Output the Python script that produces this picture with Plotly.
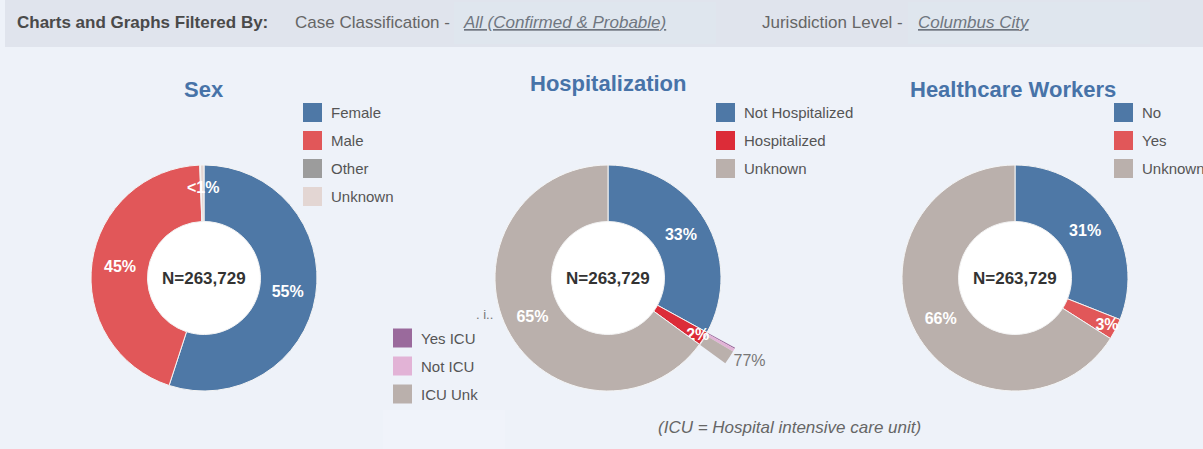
import math
import plotly.graph_objects as go

# ---------------- data ----------------
N_TOTAL = 263729

sex_labels = ["Female", "Male", "Other", "Unknown"]
sex_values = [55.0, 44.4, 0.1, 0.5]
sex_text = ["55%", "45%", "", "<1%"]
sex_colors = ["#4e78a6", "#e15759", "#9c9c9c", "#e3d6d3"]

hosp_labels = ["Not Hospitalized", "Hospitalized", "Unknown"]
hosp_values = [33.0, 2.0, 65.0]
hosp_text = ["33%", "2%", "65%"]
hosp_colors = ["#4e78a6", "#dc2c38", "#bab0ac"]

icu_labels = ["Yes ICU", "Not ICU", "ICU Unk"]
icu_values = [6.0, 17.0, 77.0]
icu_text = ["", "", "77%"]
icu_colors = ["#9a6a9c", "#e2b3d6", "#bab0ac"]

hcw_labels = ["No", "Yes", "Unknown"]
hcw_values = [31.0, 3.0, 66.0]
hcw_text = ["31%", "3%", "66%"]
hcw_colors = ["#4e78a6", "#e15759", "#bab0ac"]

titles = ["Sex", "Hospitalization", "Healthcare Workers"]

# ---------------- layout helpers ----------------
W, H = 1203, 449
BG = "#eef2f9"
HEADER = "#e0e4ed"
TITLE_C = "#4773a8"
FONT = "Liberation Sans, Arial, sans-serif"


def px(x):
    return x / W


def py(y):
    return 1 - y / H


def domain(cx, cy, r):
    return dict(x=[px(cx - r), px(cx + r)], y=[py(cy + r), py(cy - r)])


R = 113
CY = 278
centers = [204, 608, 1015]
HOLE = 0.5

fig = go.Figure()

common = dict(sort=False, direction="clockwise", rotation=0, hoverinfo="skip",
              textinfo="text", insidetextorientation="horizontal",
              showlegend=False)

# outer ring with ICU breakdown of the hospitalized slice
ring_values = [hosp_values[0]] + [hosp_values[1] * v / sum(icu_values) for v in icu_values] + [hosp_values[2]]
ring_colors = ["rgba(0,0,0,0)"] + icu_colors + ["rgba(0,0,0,0)"]
ring_text = [""] + icu_text + [""]
R_OUT = 145
fig.add_trace(go.Pie(
    values=ring_values, text=ring_text, domain=domain(centers[1], CY, R_OUT),
    hole=(R + 1) / R_OUT, marker=dict(colors=ring_colors, line=dict(width=0)),
    textposition="outside", textfont=dict(family=FONT, size=15, color="#777777"),
    **common))

shapes = []
annotations = []

pies = [
    (sex_values, sex_text, sex_colors),
    (hosp_values, hosp_text, hosp_colors),
    (hcw_values, hcw_text, hcw_colors),
]
LABEL_FONT = dict(family=FONT, size=16, color="white", weight="bold")
for (vals, txt, cols), cx in zip(pies, centers):
    total = sum(vals)
    inside_txt = []
    cum = 0.0
    for v, t in zip(vals, txt):
        frac = v / total
        if t and frac < 0.01:
            # label of a tiny slice: placed at the slice's mid-angle inside the ring
            ang = 2 * math.pi * (cum + frac / 2)
            rr = R * 0.8
            annotations.append(dict(x=px(cx + rr * math.sin(ang)), y=py(CY - rr * math.cos(ang)),
                                    xref="paper", yref="paper", text=f"<b>{t}</b>", showarrow=False,
                                    xanchor="center", yanchor="middle", font=LABEL_FONT))
            inside_txt.append("")
        else:
            inside_txt.append(t)
        cum += frac
    fig.add_trace(go.Pie(
        values=vals, text=inside_txt, domain=domain(cx, CY, R), hole=HOLE,
        marker=dict(colors=cols, line=dict(width=1, color="#f4f4f4")),
        textposition="inside", textfont=LABEL_FONT,
        **common))

# header bar and subtle boxes
shapes.append(dict(type="rect", xref="paper", yref="paper", x0=px(5), x1=1, y0=py(47), y1=1,
                   fillcolor=HEADER, line=dict(width=0), layer="below"))
shapes.append(dict(type="rect", xref="paper", yref="paper", x0=px(454), x1=px(716), y0=py(44), y1=py(2),
                   fillcolor="#dfe6ee", line=dict(width=0), layer="below"))
shapes.append(dict(type="rect", xref="paper", yref="paper", x0=px(908), x1=px(1150), y0=py(44), y1=py(2),
                   fillcolor="#dfe6ee", line=dict(width=0), layer="below"))
shapes.append(dict(type="rect", xref="paper", yref="paper", x0=px(383), x1=px(505), y0=py(449), y1=py(410),
                   fillcolor="#f0f3fa", line=dict(width=0), layer="below"))

# white holes and centre labels
hr = R * HOLE
for cx in centers:
    shapes.append(dict(type="circle", xref="paper", yref="paper",
                       x0=px(cx - hr), x1=px(cx + hr), y0=py(CY + hr), y1=py(CY - hr),
                       fillcolor="white", line=dict(width=0), layer="below"))
    annotations.append(dict(x=px(cx), y=py(CY), xref="paper", yref="paper",
                            text=f"<b>N={N_TOTAL:,}</b>", showarrow=False,
                            xanchor="center", yanchor="middle",
                            font=dict(family=FONT, size=17, color="#333333")))

# titles
title_pos = [(204, 89), (608, 83), (1013, 89)]
for t, (tx, ty) in zip(titles, title_pos):
    annotations.append(dict(x=px(tx), y=py(ty), xref="paper", yref="paper", text=f"<b>{t}</b>",
                            showarrow=False, xanchor="center", yanchor="middle",
                            font=dict(family=FONT, size=22, color=TITLE_C)))


def legend(labels, colors, x0, y0):
    for i, (lab, col) in enumerate(zip(labels, colors)):
        yc = y0 + i * 28
        shapes.append(dict(type="rect", xref="paper", yref="paper",
                           x0=px(x0), x1=px(x0 + 19), y0=py(yc + 9.5), y1=py(yc - 9.5),
                           fillcolor=col, line=dict(width=0)))
        annotations.append(dict(x=px(x0 + 26), y=py(yc), xref="paper", yref="paper", text=lab,
                                xanchor="left", yanchor="middle", showarrow=False,
                                font=dict(family=FONT, size=15, color="#555555")))


legend(sex_labels, sex_colors, 303, 112.5)
legend(hosp_labels, hosp_colors, 716, 112.5)
legend(hcw_labels, hcw_colors, 1114, 112.5)
legend(icu_labels, icu_colors, 393, 338)

# header texts
hdr = [
    (15, "<b>Charts and Graphs Filtered By:</b>", "#4a4a4a"),
    (293, "Case Classification -", "#666666"),
    (461, "<i><u>All (Confirmed & Probable)</u></i>", "#6f7680"),
    (760, "Jurisdiction Level -", "#666666"),
    (916, "<i><u>Columbus City</u></i>", "#6f7680"),
]
for x, t, c in hdr:
    annotations.append(dict(x=px(x), y=py(22), xref="paper", yref="paper", text=t,
                            xanchor="left", yanchor="middle",
                            showarrow=False, font=dict(family=FONT, size=17, color=c)))

# footnote and truncated label
annotations.append(dict(x=px(789), y=py(427), xref="paper", yref="paper",
                        text="<i>(ICU = Hospital intensive care unit)</i>", showarrow=False,
                        xanchor="center", yanchor="middle",
                        font=dict(family=FONT, size=17, color="#666666")))
annotations.append(dict(x=px(484), y=py(314), xref="paper", yref="paper", text=". i..",
                        showarrow=False, xanchor="center", yanchor="middle",
                        font=dict(family=FONT, size=13, color="#777777")))

fig.update_layout(
    width=W, height=H, margin=dict(l=0, r=0, t=0, b=0),
    paper_bgcolor=BG, plot_bgcolor=BG,
    shapes=shapes, annotations=annotations,
    uniformtext=dict(minsize=16, mode="show"),
    showlegend=False,
)

fig.write_html("out.html", config={"displayModeBar": False},
               post_script="document.body.style.margin='0';document.body.style.padding='0';")
